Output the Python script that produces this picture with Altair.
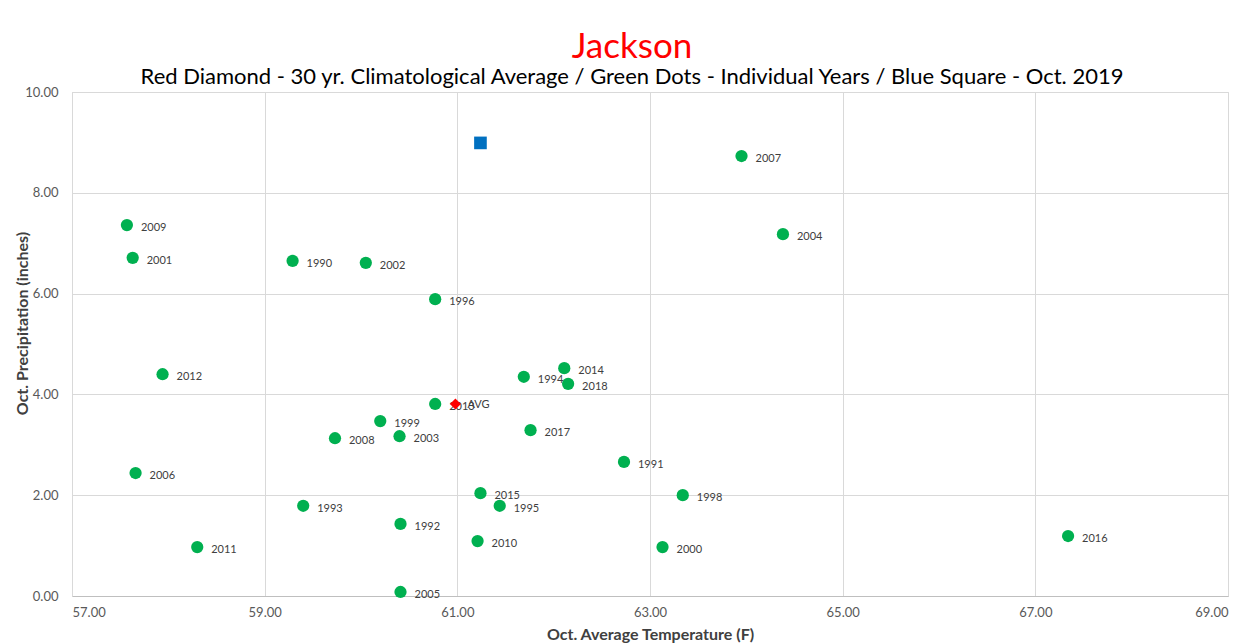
import altair as alt
import pandas as pd

years = ["2007", "2009", "2004", "2001", "1990", "2002", "1996", "2012", "2014", "1994",
         "2018", "2013", "1999", "2003", "2008", "2017", "1991", "2006", "2015", "1998",
         "1993", "1995", "1992", "2010", "2000", "2011", "2016", "2005"]
temps = [63.95, 57.57, 64.38, 57.63, 59.29, 60.05, 60.77, 57.94, 62.11, 61.69,
         62.15, 60.77, 60.20, 60.40, 59.73, 61.76, 62.73, 57.66, 61.24, 63.34,
         59.40, 61.44, 60.41, 61.21, 63.13, 58.30, 67.34, 60.41]
precip = [8.73, 7.36, 7.18, 6.71, 6.65, 6.61, 5.89, 4.40, 4.52, 4.35,
          4.21, 3.81, 3.47, 3.17, 3.13, 3.29, 2.66, 2.44, 2.04, 2.00,
          1.79, 1.79, 1.43, 1.09, 0.97, 0.97, 1.19, 0.08]

avg_label = ["AVG"]
avg_temp = [60.98]
avg_precip = [3.81]

cur_label = ["2019"]
cur_temp = [61.24]
cur_precip = [8.99]

years_df = pd.DataFrame({"label": years, "temp": temps, "precip": precip})
avg_df = pd.DataFrame({"label": avg_label, "temp": avg_temp, "precip": avg_precip})
cur_df = pd.DataFrame({"label": cur_label, "temp": cur_temp, "precip": cur_precip})

FONT = "Lato"

xs = alt.Scale(domain=[57, 69], nice=False, zero=False)
ys = alt.Scale(domain=[0, 10], nice=False, zero=False)

x_enc = alt.X("temp:Q", scale=xs, title="Oct. Average Temperature (F)",
              axis=alt.Axis(values=[57, 59, 61, 63, 65, 67, 69], format=".2f",
                            grid=True, gridColor="#d9d9d9", domainColor="#bfbfbf",
                            ticks=False, labelPadding=10, labelFontSize=13,
                            labelColor="#595959", labelFont=FONT,
                            titleFont=FONT, titleFontSize=16, titleFontWeight="bold",
                            titleColor="#404040", titlePadding=7))
y_enc = alt.Y("precip:Q", scale=ys, title="Oct. Precipitation (inches)",
              axis=alt.Axis(values=[0, 2, 4, 6, 8, 10], format=".2f",
                            grid=True, gridColor="#d9d9d9", domainColor="#d9d9d9",
                            ticks=False, labelPadding=14, labelFontSize=13,
                            labelColor="#595959", labelFont=FONT,
                            titleFont=FONT, titleFontSize=16, titleFontWeight="bold",
                            titleColor="#404040", titleX=-50, titleY=231,
                            titleAngle=270, titleAlign="center", titleBaseline="middle"))

border = alt.Chart(pd.DataFrame({"a": [0]})).mark_rect(
    fill=None, stroke="#d9d9d9", strokeWidth=1.5, clip=False
).encode(x=alt.value(-65), x2=alt.value(1173), y=alt.value(-85), y2=alt.value(570))

pts = alt.Chart(years_df).mark_circle(size=150, color="#00B050", opacity=1).encode(x=x_enc, y=y_enc)
lbls = alt.Chart(years_df).mark_text(align="left", dx=14, dy=3, fontSize=11,
                                     color="#404040", font=FONT).encode(
    x="temp:Q", y="precip:Q", text="label:N")

cur = alt.Chart(cur_df).mark_square(size=160, color="#0070C0", opacity=1).encode(x="temp:Q", y="precip:Q")

avg_pt = alt.Chart(avg_df).mark_point(shape="diamond", filled=True, size=120,
                                      color="#FF0000", opacity=1).encode(x="temp:Q", y="precip:Q")
avg_lbl = alt.Chart(avg_df).mark_text(align="left", dx=12, dy=1, fontSize=11,
                                      color="#404040", font=FONT).encode(
    x="temp:Q", y="precip:Q", text="label:N")

chart = alt.layer(border, pts, lbls, cur, avg_pt, avg_lbl).properties(
    width=1156, height=504,
    title=alt.TitleParams(
        text="Jackson",
        subtitle="Red Diamond - 30 yr. Climatological Average / Green Dots - Individual Years / Blue Square - Oct. 2019",
        color="#FF0000", fontSize=35, font=FONT, fontWeight="normal",
        subtitleColor="#000000", subtitleFontSize=22, subtitleFont=FONT,
        subtitlePadding=2, anchor="middle", dx=-18, offset=-82),
    autosize=alt.AutoSizeParams(type="none"),
    padding={"left": 64, "top": 84, "right": 15, "bottom": 48},
).configure_view(stroke=None).configure(background="white")

chart.save("out.html", embed_options={"renderer": "svg", "actions": False})
